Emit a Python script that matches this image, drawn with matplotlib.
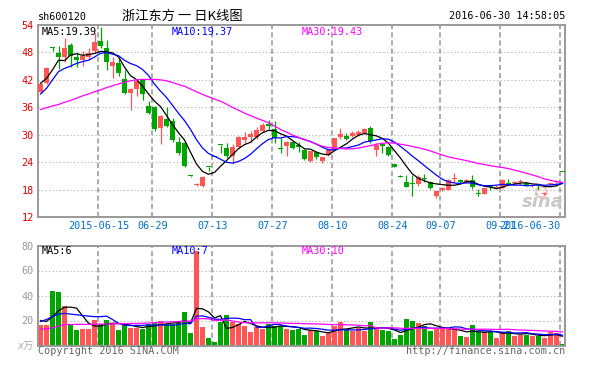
import matplotlib
matplotlib.use('Agg')
import matplotlib.pyplot as plt
import numpy as np
import pandas as pd

plt.rcParams['font.family'] = ['DejaVu Sans Mono', 'Noto Sans CJK SC']

# trading days shown (holidays removed, then the resumption day)
holidays = ['2015-06-22', '2015-09-03', '2015-09-04', '2015-10-01', '2015-10-02',
            '2015-10-05', '2015-10-06', '2015-10-07']
days = pd.bdate_range('2015-06-01', '2015-10-09')
days = [d.strftime('%Y-%m-%d') for d in days if d.strftime('%Y-%m-%d') not in holidays]
dates = days + ['2016-06-30']

opens = [39.3, 41.3, 49.1, 47.8, 46.9, 49.6, 47.1, 46.4, 46.9, 48.4,
         50.4, 48.9, 45.1, 45.7, 42.1, 39.2, 40.1, 42.1, 36.3, 36.0,
         31.4, 33.4, 32.9, 28.5, 28.2, 21.0, 18.9, 18.8, 22.9, 25.2,
         27.7, 27.1, 25.3, 27.4, 28.9, 29.4, 29.6, 30.9, 32.3, 31.3,
         26.85, 27.6, 28.5, 27.7, 26.7, 24.3, 26.3, 24.2, 25.6, 26.8,
         29.4, 29.7, 29.7, 30.0, 30.4, 31.4, 26.6, 27.9, 27.4, 23.5,
         20.75, 19.7, 19.25, 19.2, 20.35, 19.7, 16.5, 17.8, 17.9, 20.3,
         20.2, 19.65, 20.2, 17.15, 17.05, 18.65, 18.45, 18.3, 19.25, 19.5,
         19.65, 19.5, 18.8, 18.85, 17.1, 19.3, 19.75, 21.8]
highs = [41.4, 44.9, 49.1, 49.5, 51.2, 50.0, 47.8, 48.4, 49.0, 52.2,
         53.5, 50.7, 46.9, 46.8, 44.2, 40.2, 41.8, 42.2, 37.3, 36.3,
         34.4, 36.0, 33.7, 29.4, 28.7, 21.0, 19.4, 20.9, 22.9, 25.2,
         27.7, 28.1, 28.0, 29.8, 30.7, 30.9, 31.6, 32.6, 33.2, 33.1,
         29.2, 28.6, 28.6, 28.5, 26.9, 26.5, 26.4, 25.2, 26.8, 29.3,
         31.4, 30.3, 30.9, 31.0, 31.5, 31.8, 28.1, 28.1, 27.6, 23.6,
         21.2, 21.2, 21.2, 21.1, 21.5, 19.8, 17.7, 18.5, 20.3, 21.6,
         20.4, 20.3, 21.2, 18.1, 18.4, 19.1, 18.9, 20.4, 20.4, 19.8,
         20.4, 19.7, 19.1, 19.2, 17.5, 19.5, 20.0, 21.8]
lows = [39.2, 41.2, 48.4, 44.4, 45.8, 44.9, 44.8, 45.1, 46.3, 47.8,
        49.0, 44.2, 42.4, 42.8, 38.9, 35.4, 38.5, 37.6, 34.6, 30.9,
        28.0, 31.6, 28.5, 25.6, 22.9, 20.7, 18.7, 18.6, 22.0, 25.2,
        25.9, 25.0, 23.6, 27.2, 28.1, 28.5, 29.0, 30.7, 31.2, 28.1,
        26.0, 25.3, 26.9, 26.3, 24.4, 24.0, 24.6, 23.9, 25.4, 26.6,
        29.0, 28.8, 29.5, 29.8, 30.2, 28.1, 25.3, 26.0, 25.3, 22.9,
        20.7, 18.5, 16.6, 18.8, 19.6, 18.2, 16.1, 17.7, 17.8, 19.6,
        19.4, 19.5, 18.1, 16.5, 17.0, 18.0, 18.2, 18.2, 19.1, 19.3,
        19.3, 18.7, 18.6, 18.0, 16.9, 19.1, 19.5, 21.8]
closes = [41.2, 44.7, 49.05, 47.1, 49.0, 47.2, 46.3, 47.3, 47.8, 50.3,
          49.4, 46.0, 46.0, 43.4, 39.1, 40.1, 41.7, 38.9, 34.8, 31.2,
          34.2, 32.0, 28.9, 25.9, 23.2, 20.9, 19.0, 20.8, 22.85, 25.15,
          27.65, 25.3, 27.3, 29.4, 29.5, 30.2, 31.0, 32.1, 31.95, 29.2,
          26.8, 28.5, 27.2, 27.4, 24.7, 26.4, 25.2, 25.1, 26.6, 29.2,
          30.2, 29.0, 30.3, 30.7, 31.2, 28.7, 27.8, 27.5, 25.5, 23.0,
          20.7, 18.6, 19.2, 20.8, 20.3, 18.3, 17.6, 18.4, 20.1, 20.35,
          19.6, 20.15, 18.5, 17.1, 18.3, 18.6, 18.5, 20.2, 19.2, 19.55,
          19.7, 18.8, 18.9, 18.8, 17.2, 19.4, 19.8, 21.78]
volumes = [16.8, 16.8, 44.0, 43.2, 32.0, 17.6, 12.6, 13.6, 13.6, 20.6,
           17.1, 20.6, 17.3, 12.6, 16.8, 14.4, 14.4, 13.6, 17.3, 18.4,
           19.8, 17.3, 17.3, 18.4, 27.0, 10.2, 75.8, 15.2, 6.2, 3.0,
           19.2, 24.6, 19.2, 17.3, 15.8, 11.2, 15.2, 13.6, 17.3, 16.0,
           16.0, 13.6, 12.6, 13.6, 8.6, 12.6, 11.8, 7.8, 9.9, 16.0,
           19.0, 13.4, 11.8, 14.0, 11.8, 19.0, 13.4, 12.4, 11.8, 5.4,
           8.8, 21.4, 19.8, 18.2, 15.5, 11.8, 13.4, 13.4, 13.4, 12.9,
           7.8, 7.0, 16.6, 10.7, 10.7, 10.7, 6.2, 10.7, 11.8, 7.8,
           8.8, 8.8, 7.8, 7.8, 6.2, 11.2, 10.4, 1.6]

# moving averages before enough bars exist
ma5_head = [41.25, 42.3, 44.2, 46.3]
ma10_head = [38.9, 40.15, 42.0, 43.8, 44.5, 45.0, 45.6, 46.0, 46.3]
ma30_head = [35.5, 35.9, 36.3, 36.6, 37.1, 37.5, 38.0, 38.5, 38.9, 39.4,
             39.8, 40.3, 40.7, 41.1, 41.5, 41.8, 42.0, 42.1, 42.1, 42.1,
             42.0, 41.8, 41.4, 41.0, 40.6, 40.0, 39.4, 38.8, 38.3]
vma5_head = [20.0, 19.2, 23.2, 27.8]
vma10_head = [19.2, 20.8, 23.2, 25.1, 25.7, 25.1, 24.6, 24.0, 23.5]
vma30_head = [13.1, 13.3, 14.2, 15.5, 16.8, 16.8, 16.9, 16.9, 17.0, 17.0,
              17.1, 17.2, 17.3, 17.4, 17.5, 17.6, 17.6, 17.8, 18.0, 18.2,
              18.5, 18.8, 19.0, 19.2, 19.5, 19.5, 21.5, 21.5, 21.3]

tick_dates = ['2015-06-15', '2015-06-29', '2015-07-13', '2015-07-27', '2015-08-10',
              '2015-08-24', '2015-09-07', '2015-09-21', '2016-06-30']
price_ticks = [12, 18, 24, 30, 36, 42, 48, 54]
vol_ticks = [20, 40, 60, 80]

RED = '#ff5555'
GREEN = '#00a600'
GRID = '#aaaaaa'
FRAME = '#999999'


def moving_avg(vals, n, head):
    s = pd.Series(vals).rolling(n).mean().to_numpy()
    s[:len(head)] = head
    return s


W, H = 592, 372
fig = plt.figure(figsize=(W / 100, H / 100), dpi=100)
fig.patch.set_facecolor('white')


def px_axes(x0, y0, x1, y1):
    return fig.add_axes([x0 / W, 1 - y1 / H, (x1 - x0) / W, (y1 - y0) / H])


ax = px_axes(38, 25, 565, 217)
axv = px_axes(38, 245.5, 565, 345.5)

o = np.array(opens); c = np.array(closes)
hi = np.array(highs); lo = np.array(lows)
vol = np.array(volumes)
x = np.arange(len(c))
cols = np.where(c >= o, RED, GREEN)
xlim = (-0.42, len(c) - 0.58)
tick_pos = [dates.index(d) - 0.35 for d in tick_dates]

for a in (ax, axv):
    a.set_xlim(*xlim)
    a.set_xticks([])
    for s in a.spines.values():
        s.set_color(FRAME)
        s.set_linewidth(1.4)
    for p in tick_pos:
        a.axvline(p, color=GRID, lw=1.4, ls=(0, (2.6, 1.6)), zorder=0)
    a.tick_params(axis='y', length=0, pad=3, labelsize=7.3)

# price panel
ax.set_ylim(12, 54)
ax.set_yticks(price_ticks)
ax.tick_params(axis='y', labelcolor='#e00000')
for lv in price_ticks[1:-1]:
    ax.axhline(lv, color=GRID, lw=0.8, ls=(0, (1, 2.2)), zorder=0)

# sina watermark
ax.scatter([0.955], [0.13], s=60, transform=ax.transAxes, facecolors='none',
           edgecolors='#f4c4c4', linewidths=1.5, zorder=1)
ax.text(0.997, 0.03, 'sina', transform=ax.transAxes, fontsize=13, color='#c8c8c8',
        fontstyle='italic', fontweight='bold', family='DejaVu Sans', ha='right',
        va='bottom', zorder=1)

ax.vlines(x, lo, hi, colors=cols, lw=0.9, zorder=2)
ax.bar(x, np.maximum(np.abs(c - o), 0.22), bottom=np.minimum(o, c), width=0.83,
       color=cols, lw=0, zorder=3)
ax.plot(x, moving_avg(closes, 5, ma5_head), color='black', lw=0.9, zorder=4)
ax.plot(x, moving_avg(closes, 10, ma10_head), color='#0000ff', lw=0.9, zorder=4)
ax.plot(x, moving_avg(closes, 30, ma30_head), color='#ff00ff', lw=0.9, zorder=4)

for p, d in zip(tick_pos, tick_dates):
    if d == tick_dates[0]:
        ax.text(p, -0.047, d, transform=ax.get_xaxis_transform(), ha='center',
                va='center', color='#0070c8', fontsize=7.3)
    elif d == tick_dates[-1]:
        ax.text(p, -0.047, d, transform=ax.get_xaxis_transform(), ha='right',
                va='center', color='#0070c8', fontsize=7.3)
    else:
        ax.text(p, -0.047, d[5:], transform=ax.get_xaxis_transform(), ha='center',
                va='center', color='#0070c8', fontsize=7.3)

# volume panel
axv.set_ylim(0, 80)
axv.set_yticks(vol_ticks)
axv.tick_params(axis='y', labelcolor='#999999')
for lv in vol_ticks[:-1]:
    axv.axhline(lv, color=GRID, lw=0.8, ls=(0, (1, 2.2)), zorder=0)
axv.bar(x, vol, width=0.83, color=cols, lw=0, zorder=2)
axv.plot(x, moving_avg(volumes, 5, vma5_head), color='black', lw=0.9, zorder=4)
axv.plot(x, moving_avg(volumes, 10, vma10_head), color='#0000ff', lw=0.9, zorder=4)
axv.plot(x, moving_avg(volumes, 30, vma30_head), color='#ff00ff', lw=0.9, zorder=4)


def ftext(xp, yp, s, **kw):
    fig.text(xp / W, 1 - yp / H, s, **kw)


ftext(38, 17, 'sh600120', fontsize=7.3, va='center')
ftext(182, 16, '浙江东方 一 日K线图', fontsize=9.5, va='center', ha='center',
      family=['Noto Sans CJK SC', 'DejaVu Sans'])
ftext(565, 16, '2016-06-30 14:58:05', fontsize=7.3, va='center', ha='right')

ftext(42, 32, 'MA5:19.39', fontsize=7.3, va='center', color='black')
ftext(172, 32, 'MA10:19.37', fontsize=7.3, va='center', color='#0000ff')
ftext(302, 32, 'MA30:19.43', fontsize=7.3, va='center', color='#ff00ff')
ftext(42, 251, 'MA5:6', fontsize=7.3, va='center', color='black')
ftext(172, 251, 'MA10:7', fontsize=7.3, va='center', color='#0000ff')
ftext(302, 251, 'MA30:10', fontsize=7.3, va='center', color='#ff00ff')

ftext(34, 346, 'x万', fontsize=7.3, va='center', ha='right', color='#aaaaaa',
      fontstyle='italic')
ftext(38, 351, 'Copyright 2016 SINA.COM', fontsize=7.3, va='center', color='#666666')
ftext(565, 351, 'http://finance.sina.com.cn', fontsize=7.3, va='center', ha='right',
      color='#666666')

fig.savefig('out.png', dpi=100)
